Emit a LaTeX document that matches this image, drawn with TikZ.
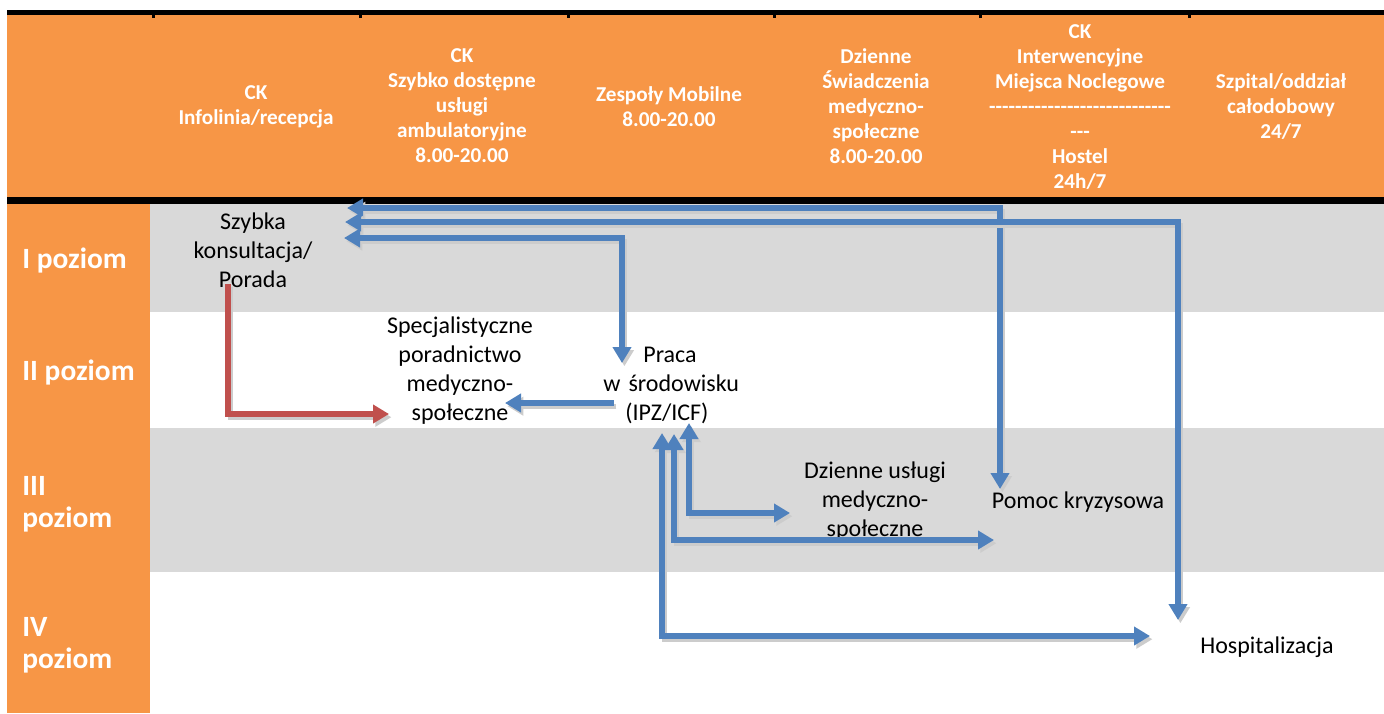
\documentclass[tikz,border=0pt]{standalone}
\usepackage{fontspec}
\setmainfont{Carlito}[Ligatures=TeXOff]
\usetikzlibrary{arrows.meta,calc}

\definecolor{hdrorange}{HTML}{F79646}
\definecolor{bandgray}{HTML}{D9D9D9}
\definecolor{flowblue}{HTML}{4F81BD}
\definecolor{flowred}{HTML}{C0504D}

\tikzset{
  colhead/.style={text=white, font=\bfseries\fontsize{10.6}{12.5}\selectfont, align=center, inner sep=0pt},
  levelhead/.style={text=white, font=\bfseries\fontsize{14.7}{16}\selectfont, align=left, anchor=west, inner sep=0pt},
  celltext/.style={text=black, font=\fontsize{12}{14.5}\selectfont, align=center, inner sep=0pt},
  onehead/.style={-{Triangle[length=8pt,width=9pt]}},
  twoheads/.style={{Triangle[length=8pt,width=9pt]}-{Triangle[length=8pt,width=9pt]}},
  blueflow/.style={draw=flowblue, line width=2.6pt},
  redflow/.style={draw=flowred, line width=2.6pt},
  shadeline/.style={draw=black!20, transform canvas={shift={(1.2pt,-1.6pt)}}},
}

% every connector is drawn twice: a soft grey copy underneath, then the line itself
\newcommand\flowpath[2]{%
  \draw[#1,shadeline] #2;
  \draw[#1] #2;}

\begin{document}
\begin{tikzpicture}[x=0.5pt,y=-0.5pt]
  \useasboundingbox (0,0) rectangle (1384,713);
  \fill[white] (0,0) rectangle (1384,713);

  % table frame
  \fill[hdrorange] (7,14) rectangle (1384,198);
  \fill[black] (7,10) rectangle (1384,14.5);
  \foreach \cx in {153,360,568,774,980,1189}
    \fill[black] (\cx-1.5,14) rectangle (\cx+1.5,18);
  \fill[black] (7,197) rectangle (1384,204);
  \fill[hdrorange] (7,204) rectangle (150,713);
  \fill[bandgray] (150,204) rectangle (1384,312);
  \fill[bandgray] (150,428) rectangle (1384,572);

  % column headings
  \node[colhead] (h1) at (256,107) {CK\\Infolinia/recepcja};
  \node[colhead] (h2) at (462,106) {CK\\Szybko dostępne\\usługi\\ambulatoryjne\\8.00-20.00};
  \node[colhead] (h3) at (669,107) {Zespoły Mobilne\\8.00-20.00};
  \node[colhead] (h4) at (876,106) {Dzienne\\Świadczenia\\medyczno-\\społeczne\\8.00-20.00};
  \node[colhead] (h5) at (1080,107) {CK\\Interwencyjne\\Miejsca Noclegowe\\----------------------------\\---\\Hostel\\24h/7};
  \node[colhead] (h6) at (1281,107) {Szpital/oddział\\całodobowy\\24/7};

  % level headings
  \node[levelhead] (l1) at (22,260) {I poziom};
  \node[levelhead] (l2) at (22,372) {II poziom};
  \node[levelhead] (l3) at (22,504) {III\\poziom};
  \node[levelhead] (l4) at (22,645) {IV\\poziom};

  % services
  \node[celltext] (szybka) at (253,250) {Szybka\\konsultacja/\\Porada};
  \node[celltext] (spec) at (460,371) {Specjalistyczne\\poradnictwo\\medyczno-\\społeczne};
  \node[celltext, align=left, anchor=west] (praca) at (603,385)
    {\hspace*{20pt}Praca\\w\hspace{4pt}środowisku\\\hspace*{11pt}(IPZ/ICF)};
  \node[celltext] (dzienne) at (875,501) {Dzienne usługi\\medyczno-\\społeczne};
  \node[celltext] (pomoc) at (1078,502) {Pomoc kryzysowa};
  \node[celltext] (hosp) at (1267,647) {Hospitalizacja};

  % connector ends and bends
  \coordinate (szA) at (347,208);
  \coordinate (szB) at (345,222);
  \coordinate (szC) at (344,238);
  \coordinate (bendA) at (1000,208);
  \coordinate (bendB) at (1178,222);
  \coordinate (bendC) at (622,238);
  \coordinate (pomocTop) at (1000,489);
  \coordinate (hospTop) at (1178,620);
  \coordinate (pracaTop) at (622,363);
  \coordinate (pracaLeft) at (614,403);
  \coordinate (specRight) at (505,403);
  \coordinate (poradaFoot) at (228,284);
  \coordinate (redBend) at (228,414);
  \coordinate (specLeft) at (389,414);
  \coordinate (upA) at (689,423);
  \coordinate (upB) at (674,434);
  \coordinate (upC) at (662,433);
  \coordinate (bendD) at (689,513);
  \coordinate (bendE) at (674,540);
  \coordinate (bendF) at (662,636);
  \coordinate (dzienneLeft) at (790,513);
  \coordinate (pomocLeft) at (994,540);
  \coordinate (hospLeft) at (1150,636);

  % connectors
  \flowpath{blueflow,twoheads}{(szA) -- (bendA) -- (pomocTop)}
  \flowpath{blueflow,twoheads}{(szB) -- (bendB) -- (hospTop)}
  \flowpath{blueflow,twoheads}{(szC) -- (bendC) -- (pracaTop)}
  \flowpath{blueflow,onehead}{(pracaLeft) -- (specRight)}
  \flowpath{redflow,onehead}{(poradaFoot) -- (redBend) -- (specLeft)}
  \flowpath{blueflow,twoheads}{(upC) -- (bendF) -- (hospLeft)}
  \flowpath{blueflow,twoheads}{(upB) -- (bendE) -- (pomocLeft)}
  \flowpath{blueflow,twoheads}{(upA) -- (bendD) -- (dzienneLeft)}
\end{tikzpicture}
\end{document}
